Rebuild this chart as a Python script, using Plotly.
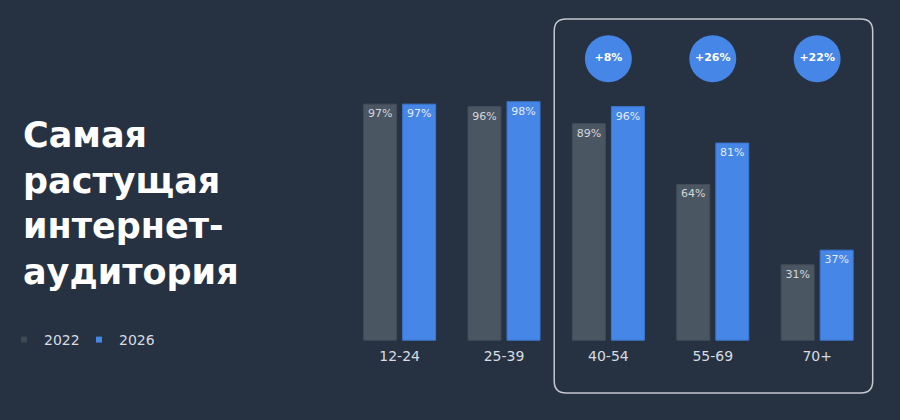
import plotly.graph_objects as go

# ---- data ----
categories = ["12-24", "25-39", "40-54", "55-69", "70+"]
years = ["2022", "2026"]
values_2022 = [97, 96, 89, 64, 31]
values_2026 = [97, 98, 96, 81, 37]
growth_categories = ["40-54", "55-69", "70+"]
growth_labels = ["+8%", "+26%", "+22%"]
title_lines = ["Самая", "растущая", "интернет-", "аудитория"]

# ---- styles ----
BG = "#263241"
GRAY = "#4b5663"
BLUE = "#4586e6"
FONT = "DejaVu Sans"
BADGE_Y = 115.7

xpos = list(range(len(categories)))
gx = [categories.index(c) for c in growth_categories]

fig = go.Figure()
fig.add_trace(go.Bar(
    x=xpos, y=values_2022, name=years[0], width=0.316, offset=-0.345,
    marker=dict(color=GRAY, line=dict(color="#434d59", width=1)),
    texttemplate="%{y}%", textposition="inside", textangle=0,
    insidetextanchor="end", constraintext="none",
    insidetextfont=dict(family=FONT, size=11, color="#d3d7dc"),
    showlegend=False, hoverinfo="skip"))
fig.add_trace(go.Bar(
    x=xpos, y=values_2026, name=years[1], width=0.316, offset=0.029,
    marker=dict(color=BLUE, line=dict(color="#3b78d2", width=1)),
    texttemplate="%{y}%", textposition="inside", textangle=0,
    insidetextanchor="end", constraintext="none",
    insidetextfont=dict(family=FONT, size=11, color="#e3ebf9"),
    showlegend=False, hoverinfo="skip"))

# legend-only entries
for name, col in zip(years, ["#3f4955", BLUE]):
    fig.add_trace(go.Scatter(x=[None], y=[None], mode="markers", name=name,
                             marker=dict(symbol="square", size=6, color=col)))

# growth badges
fig.add_trace(go.Scatter(
    x=gx, y=[BADGE_Y] * len(gx), mode="markers+text", text=growth_labels,
    textposition="middle center", cliponaxis=False, showlegend=False,
    marker=dict(size=47, color=BLUE, line=dict(width=0)),
    textfont=dict(family=FONT, size=11, color="white", weight="bold"),
    hoverinfo="skip"))

# rounded highlight box around the last three groups
x0, x1, y0, y1 = 1.481, 4.532, -21.7, 132.0
rx, ry = 0.115, 4.93
path = (f"M {x0+rx},{y1} L {x1-rx},{y1} Q {x1},{y1} {x1},{y1-ry} "
        f"L {x1},{y0+ry} Q {x1},{y0} {x1-rx},{y0} L {x0+rx},{y0} "
        f"Q {x0},{y0} {x0},{y0+ry} L {x0},{y1-ry} Q {x0},{y1} {x0+rx},{y1} Z")
fig.add_shape(type="path", path=path, xref="x", yref="y",
              line=dict(color="#c5c9cf", width=1.5), layer="below")

fig.update_layout(
    width=900, height=420,
    margin=dict(l=337, r=15, t=2, b=19, autoexpand=False),
    paper_bgcolor=BG, plot_bgcolor=BG,
    font=dict(family=FONT, color="#d8dce2"),
    title=dict(text="<br>".join(title_lines), xref="container", yref="container",
               x=23 / 900, xanchor="left", y=1 - 147 / 420, yanchor="top",
               font=dict(family=FONT, size=35, color="white", weight="bold")),
    legend=dict(orientation="h", xref="container", yref="container",
                x=4 / 900, xanchor="left", y=1 - 340 / 420, yanchor="middle",
                font=dict(family=FONT, size=14, color="#d8dce2"),
                bgcolor="rgba(0,0,0,0)", entrywidth=30, entrywidthmode="pixels"),
    xaxis=dict(range=[-0.6, 4.65], tickvals=xpos, ticktext=categories,
               showgrid=False, zeroline=False, showline=False,
               anchor="free", position=25 / 164, ticks="",
               ticklabelstandoff=6,
               tickfont=dict(family=FONT, size=14, color="#d8dce2")),
    yaxis=dict(range=[-25, 139], visible=False, showgrid=False, zeroline=False),
    showlegend=True,
)

fig.write_html("out.html", config={"displayModeBar": False},
               post_script="document.body.style.margin='0';")
